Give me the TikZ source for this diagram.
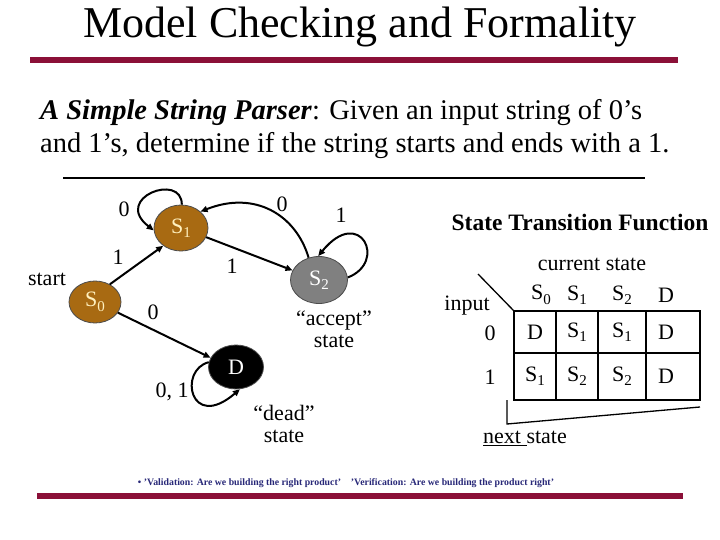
\documentclass[tikz,border=0pt]{standalone}
\usepackage{fontspec}
\setmainfont{Liberation Serif}
\usetikzlibrary{arrows.meta,shapes.geometric}
\definecolor{maroon}{RGB}{139,16,56}
\definecolor{brownst}{RGB}{168,106,18}
\definecolor{paletext}{RGB}{255,240,190}
\definecolor{navy}{RGB}{40,40,120}
\newcommand\subs[1]{\raisebox{-0.45ex}{\fontsize{15}{15}\selectfont #1}}
\tikzset{
  state/.style={ellipse,draw=black!70,line width=0.8pt,minimum width=54pt,minimum height=46pt,inner sep=0pt,font=\fontsize{22}{22}\selectfont},
  edge/.style={-{Triangle[length=7pt,width=6pt]},line width=2pt},
  lab/.style={font=\fontsize{22}{22}\selectfont,inner sep=0pt},
  cell/.style={font=\fontsize{22}{22}\selectfont,inner sep=0pt},
}
\begin{document}
\begin{tikzpicture}[x=1pt,y=-1pt]
\useasboundingbox[fill=white] (0,0) rectangle (720,540);
% title
\node[font=\fontsize{44}{44}\selectfont,inner sep=0pt] (title) at (360,27) {Model Checking and Formality};
\fill[maroon] (30,57) rectangle (678,63);
% subtitle
\node[font=\fontsize{28.5}{33}\selectfont,anchor=west,align=left,inner sep=0pt] (sub) at (40,129)
 {\textit{\textbf{A Simple String Parser}}: Given an input string of 0’s\\ and 1’s, determine if the string starts and ends with a 1.};
\fill[black] (63,177) rectangle (645,179);
% states
\node[state,fill=brownst,text=paletext,minimum width=52pt,minimum height=42pt] (s0) at (95,302) {S\subs{0}};
\node[state,fill=brownst,text=paletext] (s1) at (181,228) {S\subs{1}};
\node[state,fill=gray!100,text=white,minimum width=57pt,minimum height=47pt] (s2) at (319,280) {S\subs{2}};
\node[state,fill=black,text=white,minimum width=55pt,minimum height=44pt] (d) at (236,367) {D};
\node[lab] (start) at (47,279) {start};
\node[lab,align=center,font=\fontsize{22}{22}\selectfont] (acc) at (334,329) {“accept”\\state};
\node[lab,align=center,font=\fontsize{22}{22}\selectfont] (dead) at (284,424) {“dead”\\state};
% edges
\draw[edge] (s0.50) -- (s1.225);
\draw[edge] (s0.-25) -- (d.160);
\draw[edge] (s1.-20) -- (s2.160);
\draw[edge] (s2.115) .. controls (296,215) and (255,190) .. (s1.40);
\draw[edge] (s2.5) .. controls (388,262) and (360,205) .. (s2.92);
\draw[edge] (s1.88) .. controls (182,172) and (112,198) .. (s1.185);
\draw[edge] (d.170) .. controls (178,370) and (190,432) .. (d.280);
% labels
\node[lab] (l1) at (118,257) {1};
\node[lab] (l2) at (153,312) {0};
\node[lab] (l3) at (232,266) {1};
\node[lab] (l4) at (282,204) {0};
\node[lab] (l5) at (341,215) {1};
\node[lab] (l6) at (124,209) {0};
\node[lab] (l7) at (172,392) {0, 1};
% table
\node[font=\fontsize{23.5}{23.5}\selectfont\bfseries,inner sep=0pt] (stf) at (580,222) {State Transition Function};
\node[cell] (cs) at (592,264) {current state};
\node[cell] (h0) at (541,295) {S\subs{0}};
\node[cell] (h1) at (577,295) {S\subs{1}};
\node[cell] (h2) at (622,295) {S\subs{2}};
\node[cell] (h3) at (666,295) {D};
\node[cell] (inp) at (467,306) {input};
\node[cell] (r0) at (490,333) {0};
\node[cell] (r1) at (490,377) {1};
\draw[line width=1.3pt] (514,311) rectangle (700,400);
\draw[line width=1.3pt] (514,353) -- (700,353);
\draw[line width=1.3pt] (556,311) -- (556,400) (598,311) -- (598,400) (646,311) -- (646,400);
\coordinate (dg1) at (478,274);
\coordinate (dg2) at (514,311);
\draw[line width=1.3pt] (dg1) -- (dg2);
\node[cell] (c00) at (535,332) {D};
\node[cell] (c01) at (577,332) {S\subs{1}};
\node[cell] (c02) at (622,332) {S\subs{1}};
\node[cell] (c03) at (666,332) {D};
\node[cell] (c10) at (535,376) {S\subs{1}};
\node[cell] (c11) at (577,376) {S\subs{2}};
\node[cell] (c12) at (622,376) {S\subs{2}};
\node[cell] (c13) at (666,376) {D};
\coordinate (b1) at (507,400);
\coordinate (b2) at (507,424);
\coordinate (b3) at (700,407);
\draw[line width=1.3pt] (b1) -- (b2) -- (b3);
\node[cell] (ns) at (525,438) {\underline{next }state};
% footer
\node[font=\fontsize{9.8}{9.8}\selectfont\bfseries,text=navy,inner sep=0pt] (foot) at (346,483) {• 'Validation: Are we building the right product'\quad 'Verification: Are we building the product right'};
\fill[maroon] (37,493) rectangle (683,499);
\end{tikzpicture}
\end{document}
